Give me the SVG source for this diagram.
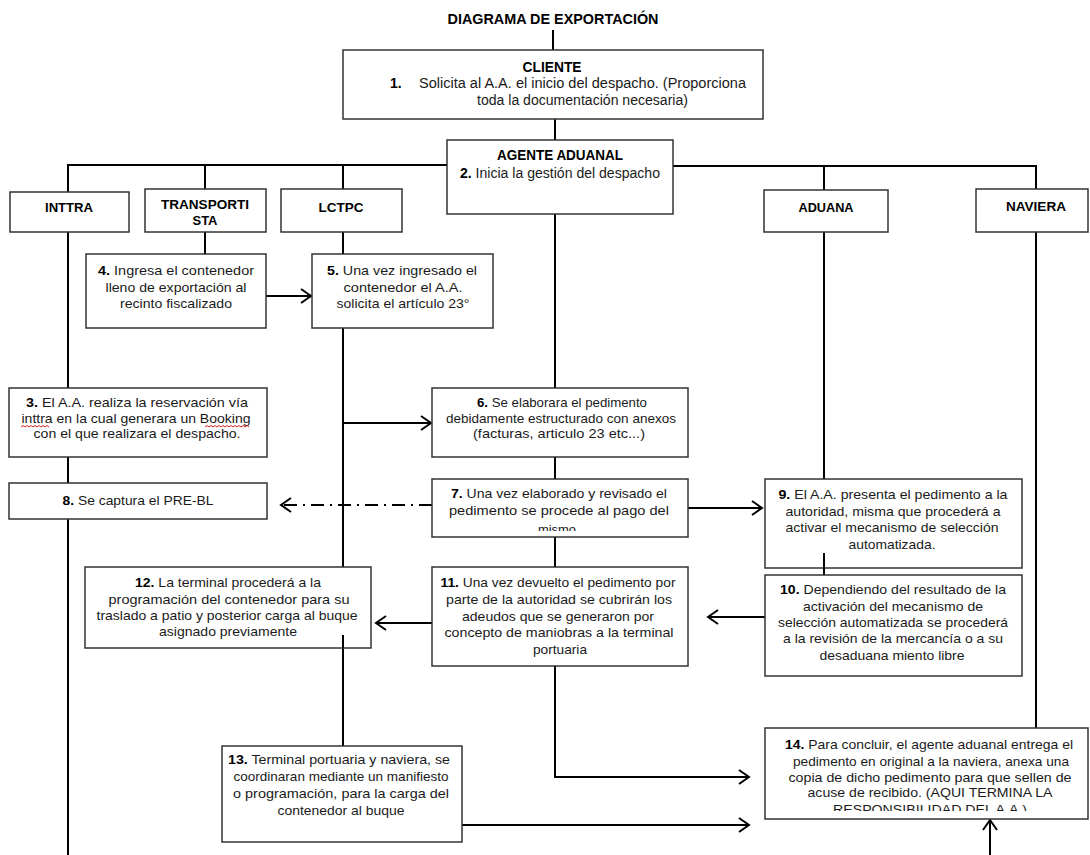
<svg xmlns="http://www.w3.org/2000/svg" width="1090" height="855" viewBox="0 0 1090 855">
<style>
.box{fill:#fff;stroke:#333;stroke-width:1.5}
.ln{stroke:#000;stroke-width:2;fill:none}
.t{font-family:"Liberation Sans Narrow","Liberation Sans",Arial,sans-serif;font-size:13.5px;fill:#1a1a1a;text-anchor:middle}
.s{text-anchor:start}
.c{font-family:"Liberation Sans",Arial,sans-serif;font-size:14px}
.b{font-weight:bold;fill:#000}
.sq{stroke:#e02020;stroke-width:1;fill:none}
</style>
<defs>
<marker id="ar" markerUnits="userSpaceOnUse" markerWidth="14" markerHeight="18" refX="11" refY="8" orient="auto">
<path d="M1,1 L11,8 L1,15" fill="none" stroke="#000" stroke-width="2"/>
</marker>
<clipPath id="c7"><rect x="432" y="479" width="256" height="52"/></clipPath>
<clipPath id="c14"><rect x="765" y="728" width="323" height="83"/></clipPath>
</defs>
<rect width="1090" height="855" fill="#fff"/>
<text class="t b c" x="553" y="24" textLength="211" lengthAdjust="spacingAndGlyphs">DIAGRAMA DE EXPORTACIÓN</text>
<g id="connectors">
<path class="ln" d="M553,30 V50"/>
<path class="ln" d="M555,119 V140"/>
<path class="ln" d="M68,192 V165 H447"/>
<path class="ln" d="M205,165 V189"/>
<path class="ln" d="M343,165 V189"/>
<path class="ln" d="M673,166 H1036 V189"/>
<path class="ln" d="M824,166 V190"/>
<path class="ln" d="M68,232 V388"/>
<path class="ln" d="M68,457 V483"/>
<path class="ln" d="M68,519 V855"/>
<path class="ln" d="M205,232 V254"/>
<path class="ln" d="M343,232 V254"/>
<path class="ln" d="M343,328 V567"/>
<path class="ln" d="M343,635 V746"/>
<path class="ln" d="M266,296 H311" marker-end="url(#ar)"/>
<path class="ln" d="M343,423 H431" marker-end="url(#ar)"/>
<path class="ln" d="M555,214 V388"/>
<path class="ln" d="M555,457 V479"/>
<path class="ln" d="M555,537 V567"/>
<path class="ln" d="M555,666 V777 H749" marker-end="url(#ar)"/>
<path class="ln" d="M432,505 H281" stroke-dasharray="13,6,2,6" marker-end="url(#ar)"/>
<path class="ln" d="M688,508 H762" marker-end="url(#ar)"/>
<path class="ln" d="M824,232 V479"/>
<path class="ln" d="M765,617 H708" marker-end="url(#ar)"/>
<path class="ln" d="M432,623 H376" marker-end="url(#ar)"/>
<path class="ln" d="M462,825 H749" marker-end="url(#ar)"/>
<path class="ln" d="M1036,232 V728"/>
<path class="ln" d="M990,855 V820" marker-end="url(#ar)"/>
</g>
<g id="cliente">
<rect class="box" x="343" y="50" width="420" height="69"/>
<text class="t b c" x="552" y="72" textLength="59" lengthAdjust="spacingAndGlyphs">CLIENTE</text>
<text class="t s b c" x="390" y="88">1.</text>
<text class="t s c" x="419" y="88" textLength="327" lengthAdjust="spacingAndGlyphs">Solicita  al A.A. el inicio del despacho. (Proporciona</text>
<text class="t s c" x="477" y="105" textLength="211" lengthAdjust="spacingAndGlyphs">toda la documentación necesaria)</text>
</g>
<g id="agente">
<rect class="box" x="447" y="140" width="226" height="74"/>
<text class="t b c" x="560" y="160" textLength="126" lengthAdjust="spacingAndGlyphs">AGENTE ADUANAL</text>
<text class="t c" x="560" y="178" textLength="200" lengthAdjust="spacingAndGlyphs"><tspan class="b">2.</tspan> Inicia la gestión del despacho</text>
</g>
<g id="inttra">
<rect class="box" x="10" y="192" width="119" height="40"/>
<text class="t b" x="69" y="212" textLength="48" lengthAdjust="spacingAndGlyphs">INTTRA</text>
</g>
<g id="transportista">
<rect class="box" x="145" y="189" width="121" height="43"/>
<text class="t b" x="205" y="209" textLength="88" lengthAdjust="spacingAndGlyphs">TRANSPORTI</text>
<text class="t b" x="205" y="225" textLength="25" lengthAdjust="spacingAndGlyphs">STA</text>
</g>
<g id="lctpc">
<rect class="box" x="281" y="189" width="121" height="43"/>
<text class="t b" x="341" y="212" textLength="45" lengthAdjust="spacingAndGlyphs">LCTPC</text>
</g>
<g id="aduana">
<rect class="box" x="764" y="190" width="124" height="42"/>
<text class="t b" x="826" y="212" textLength="55" lengthAdjust="spacingAndGlyphs">ADUANA</text>
</g>
<g id="naviera">
<rect class="box" x="976" y="189" width="112" height="43"/>
<text class="t b" x="1036" y="211" textLength="60" lengthAdjust="spacingAndGlyphs">NAVIERA</text>
</g>
<g id="paso4">
<rect class="box" x="86" y="254" width="180" height="74"/>
<text class="t" x="176" y="275" textLength="156" lengthAdjust="spacingAndGlyphs"><tspan class="b">4.</tspan>  Ingresa el contenedor</text>
<text class="t" x="176" y="292" textLength="141" lengthAdjust="spacingAndGlyphs">lleno de exportación al</text>
<text class="t" x="176" y="308" textLength="112" lengthAdjust="spacingAndGlyphs">recinto fiscalizado</text>
</g>
<g id="paso5">
<rect class="box" x="312" y="254" width="181" height="74"/>
<text class="t" x="402" y="275" textLength="150" lengthAdjust="spacingAndGlyphs"><tspan class="b">5.</tspan>  Una vez ingresado el</text>
<text class="t" x="403" y="292" textLength="119" lengthAdjust="spacingAndGlyphs">contenedor el A.A.</text>
<text class="t" x="403" y="308" textLength="133" lengthAdjust="spacingAndGlyphs">solicita el artículo 23°</text>
</g>
<g id="paso3">
<rect class="box" x="9" y="388" width="258" height="69"/>
<text class="t" x="137" y="407" textLength="222" lengthAdjust="spacingAndGlyphs"><tspan class="b">3.</tspan>  El A.A. realiza la reservación vía</text>
<text class="t" x="136" y="423" textLength="229" lengthAdjust="spacingAndGlyphs">inttra en la cual generara un Booking</text>
<text class="t" x="137" y="438" textLength="207" lengthAdjust="spacingAndGlyphs">con el que realizara el despacho.</text>
<path class="sq" d="M21,427 l2,-1.5 l2,1.5 l2,-1.5 l2,1.5 l2,-1.5 l2,1.5 l2,-1.5 l2,1.5 l2,-1.5 l2,1.5 l2,-1.5 l2,1.5 l2,-1.5 l2,1.5"/>
<path class="sq" d="M205,427 l2,-1.5 l2,1.5 l2,-1.5 l2,1.5 l2,-1.5 l2,1.5 l2,-1.5 l2,1.5 l2,-1.5 l2,1.5 l2,-1.5 l2,1.5 l2,-1.5 l2,1.5 l2,-1.5 l2,1.5 l2,-1.5 l2,1.5 l2,-1.5 l2,1.5 l2,-1.5 l2,1.5"/>
</g>
<g id="paso6">
<rect class="box" x="432" y="388" width="256" height="69"/>
<text class="t" x="562" y="407" textLength="170" lengthAdjust="spacingAndGlyphs"><tspan class="b">6.</tspan> Se elaborara el pedimento</text>
<text class="t" x="561" y="423" textLength="230" lengthAdjust="spacingAndGlyphs">debidamente estructurado con anexos</text>
<text class="t" x="559" y="438" textLength="172" lengthAdjust="spacingAndGlyphs">(facturas, articulo 23 etc...)</text>
</g>
<g id="paso8">
<rect class="box" x="9" y="483" width="258" height="36"/>
<text class="t" x="138" y="505" textLength="151" lengthAdjust="spacingAndGlyphs"><tspan class="b">8.</tspan> Se captura el PRE-BL</text>
</g>
<g id="paso7">
<rect class="box" x="432" y="479" width="256" height="58"/>
<g clip-path="url(#c7)">
<text class="t" x="559" y="498" textLength="216" lengthAdjust="spacingAndGlyphs"><tspan class="b">7.</tspan> Una vez elaborado y revisado el</text>
<text class="t" x="559" y="515" textLength="220" lengthAdjust="spacingAndGlyphs">pedimento se procede al pago del</text>
<text class="t" x="557" y="534" textLength="38" lengthAdjust="spacingAndGlyphs">mismo</text>
</g>
</g>
<g id="paso9">
<rect class="box" x="765" y="479" width="257" height="89"/>
<text class="t" x="893" y="499" textLength="229" lengthAdjust="spacingAndGlyphs"><tspan class="b">9.</tspan> El A.A. presenta el pedimento a la</text>
<text class="t" x="893" y="516" textLength="215" lengthAdjust="spacingAndGlyphs">autoridad, misma que procederá a</text>
<text class="t" x="892" y="532" textLength="213" lengthAdjust="spacingAndGlyphs">activar el mecanismo de selección</text>
<text class="t" x="892" y="549" textLength="87" lengthAdjust="spacingAndGlyphs">automatizada.</text>
</g>
<path class="ln" d="M824,553 V575"/>
<g id="paso10">
<rect class="box" x="765" y="575" width="257" height="101"/>
<text class="t" x="893" y="594" textLength="226" lengthAdjust="spacingAndGlyphs"><tspan class="b">10.</tspan> Dependiendo del resultado de la</text>
<text class="t" x="893" y="611" textLength="180" lengthAdjust="spacingAndGlyphs">activación del mecanismo de</text>
<text class="t" x="893" y="627" textLength="230" lengthAdjust="spacingAndGlyphs">selección automatizada se procederá</text>
<text class="t" x="893" y="643" textLength="220" lengthAdjust="spacingAndGlyphs">a la revisión de la mercancía o a su</text>
<text class="t" x="892" y="660" textLength="145" lengthAdjust="spacingAndGlyphs">desaduana miento libre</text>
</g>
<g id="paso12">
<rect class="box" x="85" y="567" width="286" height="81"/>
<text class="t" x="228" y="587" textLength="186" lengthAdjust="spacingAndGlyphs"><tspan class="b">12.</tspan> La terminal procederá a la</text>
<text class="t" x="229" y="604" textLength="241" lengthAdjust="spacingAndGlyphs">programación del contenedor para su</text>
<text class="t" x="227" y="620" textLength="261" lengthAdjust="spacingAndGlyphs">traslado a patio y posterior carga al buque</text>
<text class="t" x="228" y="636" textLength="138" lengthAdjust="spacingAndGlyphs">asignado previamente</text>
</g>
<path class="ln" d="M343,635 V648"/>
<g id="paso11">
<rect class="box" x="432" y="567" width="256" height="99"/>
<text class="t" x="558" y="587" textLength="235" lengthAdjust="spacingAndGlyphs"><tspan class="b">11.</tspan> Una vez devuelto el pedimento por</text>
<text class="t" x="559" y="604" textLength="226" lengthAdjust="spacingAndGlyphs">parte de la autoridad se cubrirán los</text>
<text class="t" x="558" y="621" textLength="192" lengthAdjust="spacingAndGlyphs">adeudos que se generaron por</text>
<text class="t" x="559" y="637" textLength="229" lengthAdjust="spacingAndGlyphs">concepto de maniobras a la terminal</text>
<text class="t" x="560" y="654" textLength="54" lengthAdjust="spacingAndGlyphs">portuaria</text>
</g>
<g id="paso13">
<rect class="box" x="222" y="746" width="240" height="96"/>
<text class="t" x="339" y="764" textLength="222" lengthAdjust="spacingAndGlyphs"><tspan class="b">13.</tspan> Terminal portuaria y naviera,  se</text>
<text class="t" x="341" y="781" textLength="215" lengthAdjust="spacingAndGlyphs">coordinaran mediante un manifiesto</text>
<text class="t" x="341" y="798" textLength="216" lengthAdjust="spacingAndGlyphs">o programación,  para la carga del</text>
<text class="t" x="341" y="815" textLength="127" lengthAdjust="spacingAndGlyphs">contenedor al buque</text>
</g>
<g id="paso14">
<rect class="box" x="765" y="728" width="323" height="91"/>
<g clip-path="url(#c14)">
<text class="t" x="929" y="749" textLength="288" lengthAdjust="spacingAndGlyphs"><tspan class="b">14.</tspan> Para concluir, el agente aduanal entrega el</text>
<text class="t" x="931" y="766" textLength="276" lengthAdjust="spacingAndGlyphs">pedimento en original a la naviera, anexa una</text>
<text class="t" x="930" y="782" textLength="283" lengthAdjust="spacingAndGlyphs">copia de dicho pedimento para que sellen de</text>
<text class="t" x="930" y="797" textLength="245" lengthAdjust="spacingAndGlyphs">acuse de recibido.  (AQUI TERMINA LA</text>
<text class="t" x="930" y="814" textLength="194" lengthAdjust="spacingAndGlyphs">RESPONSIBILIDAD DEL A.A.)</text>
</g>
</g>
</svg>
